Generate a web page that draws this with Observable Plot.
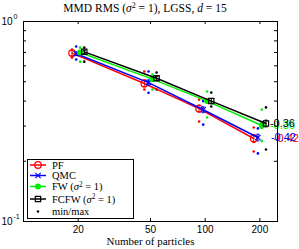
<!DOCTYPE html>
<html><head><meta charset="utf-8">
<script src="https://cdn.jsdelivr.net/npm/d3@7"></script>
<script src="https://cdn.jsdelivr.net/npm/@observablehq/plot@0.6"></script>
<style>body{margin:0;background:#fff} svg{display:block}</style>
</head><body><div id="chart"></div>
<script>
// ---- data ----
const particles = [20, 50, 100, 200];
const seriesKeys = ["PF", "QMC", "FW", "FCFW"];
const legendLabels = ["PF", "QMC", "FW (σ² = 1)", "FCFW (σ² = 1)", "min/max"];
const pfMean   = [0.695, 0.49, 0.367, 0.26];
const qmcMean  = [0.69, 0.495, 0.362, 0.263];
const fwMean   = [0.70, 0.515, 0.40, 0.302];
const fcfwMean = [0.705, 0.52, 0.40, 0.309];
const pfErr    = [0.02, 0.02, 0.015, 0.012];
const qmcErr   = [0.015, 0.015, 0.012, 0.01];
const fwErr    = [0.012, 0.012, 0.01, 0.01];
const fcfwErr  = [0.012, 0.012, 0.012, 0.012];
const pfMin    = [0.66, 0.457, 0.316, 0.224];
const pfMax    = [0.724, 0.562, 0.407, 0.295];
const qmcMin   = [0.646, 0.44, 0.305, 0.219];
const qmcMax   = [0.75, 0.562, 0.40, 0.292];
const fwMin    = [0.63, 0.457, 0.331, 0.253];
const fwMax    = [0.74, 0.543, 0.447, 0.363];
const fcfwMin  = [0.63, 0.457, 0.376, 0.229];
const fcfwMax  = [0.74, 0.556, 0.441, 0.372];
const slopeLabels = ["-0.42", "-0.42", "-0.36", "-0.36"];
const yTickValues = [0.1, 0.2, 0.3, 0.4, 0.5, 0.6, 0.7, 0.8, 0.9, 1];
const yMajor = [0.1, 1];
const yMajorExp = ["-1", "0"];

// ---- styles ----
const colors = ["#ff0000", "#0000ff", "#00ee00", "#000000"];
const symbols = ["circle", "times", "circle", "square"];
const fills = ["none", "none", "#00ee00", "none"];
const radii = [3.3, 2.5, 2.4, 3.0];
const xShift = [0.925, 0.975, 1.025, 1.08];
const labelDx = [14, 11, 10, 10];
const SANS = "Liberation Sans, Arial, sans-serif";
const SERIF = "Liberation Serif, Times New Roman, serif";

const means = [pfMean, qmcMean, fwMean, fcfwMean];
const errs = [pfErr, qmcErr, fwErr, fcfwErr];
const mins = [pfMin, qmcMin, fwMin, fcfwMin];
const maxs = [pfMax, qmcMax, fwMax, fcfwMax];

const rows = [];
seriesKeys.forEach((k, si) => particles.forEach((n, i) => rows.push({
  si, key: k, n, x: n * xShift[si], mean: means[si][i],
  lo: means[si][i] - errs[si][i], hi: means[si][i] + errs[si][i],
  min: mins[si][i], max: maxs[si][i]
})));

const W = 299, H = 249, mL = 23, mR = 22, mT = 21, mB = 28;
const fw = W - mL - mR, fh = H - mT - mB;

const marks = [];
// inward ticks
marks.push(Plot.tickX(particles, {x: d => d, insetTop: fh - 3, stroke: "black"}));
marks.push(Plot.tickX(particles, {x: d => d, insetBottom: fh - 3, stroke: "black"}));
marks.push(Plot.tickY(yTickValues, {y: d => d, insetRight: fw - 3, stroke: "black"}));
marks.push(Plot.tickY(yTickValues, {y: d => d, insetLeft: fw - 3, stroke: "black"}));
// tick labels
marks.push(Plot.text(particles, {x: d => d, text: d => String(d), frameAnchor: "bottom", dy: 11, fontSize: 10, fontFamily: SANS, fill: "black"}));
marks.push(Plot.text(yMajor, {y: d => d, text: () => "10", frameAnchor: "left", textAnchor: "end", dx: -11, fontSize: 10, fontFamily: SANS, fill: "black"}));
marks.push(Plot.text(yMajor, {y: d => d, text: (d, i) => yMajorExp[i], frameAnchor: "left", textAnchor: "start", dx: -10, dy: -5, fontSize: 7, fontFamily: SANS, fill: "black"}));
marks.push(Plot.text(["Number of particles"], {text: d => d, frameAnchor: "bottom", dy: 23, fontSize: 11, fontFamily: SERIF, fill: "black"}));

for (let si = 0; si < 4; si++) {
  const data = rows.filter(r => r.si === si);
  marks.push(Plot.dot(data, {x: "x", y: "min", r: 1.3, fill: colors[si], stroke: null}));
  marks.push(Plot.dot(data, {x: "x", y: "max", r: 1.3, fill: colors[si], stroke: null}));
}
for (let si = 0; si < 4; si++) {
  const data = rows.filter(r => r.si === si);
  marks.push(Plot.line(data, {x: "x", y: "mean", stroke: colors[si], strokeWidth: 1.5}));
  marks.push(Plot.ruleX(data, {x: "x", y1: "lo", y2: "hi", stroke: colors[si], strokeWidth: 1}));
  marks.push(Plot.link(data, {x1: d => d.x / 1.02, x2: d => d.x * 1.02, y1: "lo", y2: "lo", stroke: colors[si], strokeWidth: 1}));
  marks.push(Plot.link(data, {x1: d => d.x / 1.02, x2: d => d.x * 1.02, y1: "hi", y2: "hi", stroke: colors[si], strokeWidth: 1}));
  marks.push(Plot.dot(data, {x: "x", y: "mean", symbol: symbols[si], r: radii[si], stroke: colors[si], fill: fills[si], strokeWidth: 1.2}));
}
for (let si = 0; si < 4; si++) {
  const last = rows.filter(r => r.si === si).slice(-1);
  marks.push(Plot.text(last, {x: "n", y: "mean", text: () => slopeLabels[si], textAnchor: "start", dx: labelDx[si], fontSize: 11, fontFamily: SANS, fill: colors[si]}));
}
marks.push(Plot.frame({stroke: "black", strokeWidth: 1}));

const plot = Plot.plot({
  width: W, height: H,
  marginLeft: mL, marginRight: mR, marginTop: mT, marginBottom: mB,
  x: {type: "log", domain: [10, 250], axis: null},
  y: {type: "log", domain: [0.1, 1], axis: null},
  style: {background: "white", overflow: "visible"},
  marks
});
document.getElementById("chart").appendChild(plot);

// ---- title and legend (annotation layer) ----
const svg = d3.select(plot);
function richText(sel, str) {
  const parts = str.split("σ²");
  sel.append("tspan").text(parts[0]);
  if (parts.length > 1) {
    sel.append("tspan").attr("font-style", "italic").text("σ");
    sel.append("tspan").attr("font-size", "0.7em").attr("dy", "-0.45em").text("2");
    sel.append("tspan").attr("dy", "0.315em").text(parts[1]);
  }
}
const title = svg.append("text").attr("x", 145).attr("y", 12).attr("text-anchor", "middle")
  .attr("font-family", SERIF).attr("font-size", 11.5).attr("fill", "black");
title.append("tspan").text("MMD RMS (");
title.append("tspan").attr("font-style", "italic").text("σ");
title.append("tspan").attr("font-size", "0.7em").attr("dy", "-0.45em").text("2");
title.append("tspan").attr("dy", "0.315em").text(" = 1), LGSS, ");
title.append("tspan").attr("font-style", "italic").text("d");
title.append("tspan").text(" = 15");

const lg = svg.append("g").attr("text-anchor", "start");
lg.append("rect").attr("x", 27.5).attr("y", 159.5).attr("width", 106).attr("height", 59)
  .attr("fill", "white").attr("stroke", "black").attr("stroke-width", 1);
const ly = [165, 175.5, 186.5, 199, 211.5];
const symMap = {circle: d3.symbolCircle, times: d3.symbolTimes, square: d3.symbolSquare};
for (let si = 0; si < 4; si++) {
  lg.append("line").attr("x1", 30).attr("x2", 46).attr("y1", ly[si]).attr("y2", ly[si])
    .attr("stroke", colors[si]).attr("stroke-width", 1.5);
  lg.append("path").attr("transform", `translate(38,${ly[si]})`)
    .attr("d", d3.symbol(symMap[symbols[si]], Math.PI * radii[si] * radii[si])())
    .attr("fill", fills[si]).attr("stroke", colors[si]).attr("stroke-width", 1.2);
}
lg.append("circle").attr("cx", 38).attr("cy", ly[4]).attr("r", 1.2).attr("fill", "black");
legendLabels.forEach((t, i) => {
  const tx = lg.append("text").attr("x", 52).attr("y", ly[i]).attr("dy", "0.35em")
    .attr("text-anchor", "start")
    .attr("font-family", SERIF).attr("font-size", 10.5).attr("fill", "black");
  richText(tx, t);
});
</script>
</body></html>
